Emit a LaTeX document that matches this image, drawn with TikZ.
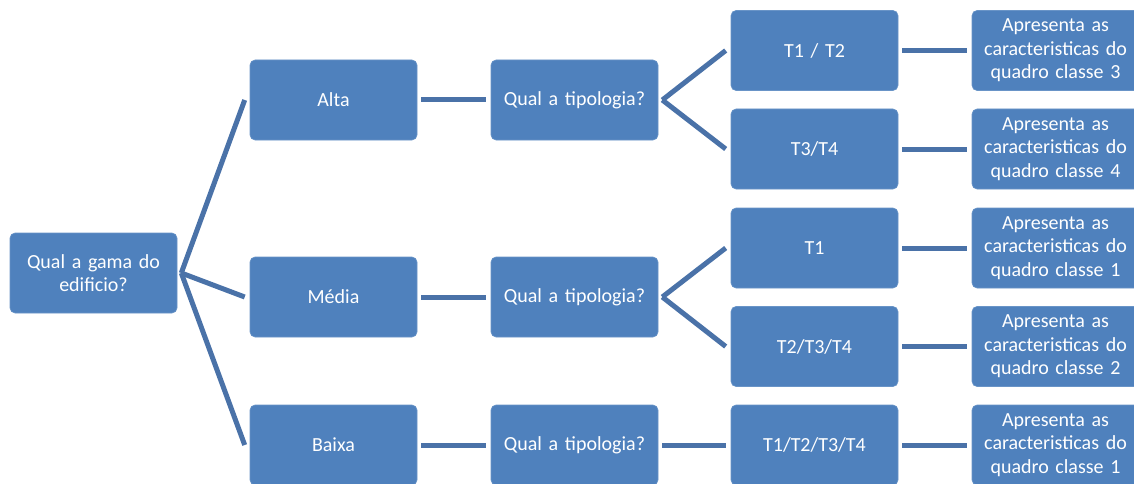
\documentclass[tikz,border=0pt]{standalone}
\usepackage{fontspec}
\setmainfont{Carlito}
\definecolor{boxblue}{HTML}{4F81BD}
\definecolor{lineblue}{HTML}{4A72A8}
\begin{document}
\begin{tikzpicture}[x=1pt,y=-1pt,
  box/.style={fill=boxblue, draw=boxblue!85!white, line width=0.6pt, rounded corners=5pt,
    minimum width=167pt, minimum height=80pt, inner sep=2pt, text=white, align=center,
    text width=163pt, font=\fontsize{20}{23.5}\selectfont},
  conn/.style={draw=lineblue, line width=5pt}]
\useasboundingbox (0,0) rectangle (1134,484);
\node[box] (root) at (93.5,273) {Qual a gama do\\edificio?};
\node[box] (alta) at (333.5,100) {Alta};
\node[box] (media) at (333.5,297) {Média};
\node[box] (baixa) at (333.5,445) {Baixa};
\node[box] (q1) at (574.5,100) {Qual a tipologia?};
\node[box] (q2) at (574.5,297) {Qual a tipologia?};
\node[box] (q3) at (574.5,445) {Qual a tipologia?};
\node[box] (t12) at (814.5,50.5) {T1 / T2};
\node[box] (t34) at (814.5,149) {T3/T4};
\node[box] (t1) at (814.5,248) {T1};
\node[box] (t234) at (814.5,346.5) {T2/T3/T4};
\node[box] (tall) at (814.5,445) {T1/T2/T3/T4};
\node[box] (c3) at (1055.5,50.5) {Apresenta as\\caracteristicas do\\quadro classe 3};
\node[box] (c4) at (1055.5,149) {Apresenta as\\caracteristicas do\\quadro classe 4};
\node[box] (c1a) at (1055.5,248) {Apresenta as\\caracteristicas do\\quadro classe 1};
\node[box] (c2) at (1055.5,346.5) {Apresenta as\\caracteristicas do\\quadro classe 2};
\node[box] (c1b) at (1055.5,445) {Apresenta as\\caracteristicas do\\quadro classe 1};
\foreach \a/\b in {root/alta,root/media,root/baixa,alta/q1,media/q2,baixa/q3,
  q1/t12,q1/t34,q2/t1,q2/t234,q3/tall,t12/c3,t34/c4,t1/c1a,t234/c2,tall/c1b}
  \draw[conn] ([xshift=4pt]\a.east) -- ([xshift=-5pt]\b.west);
\end{tikzpicture}
\end{document}
